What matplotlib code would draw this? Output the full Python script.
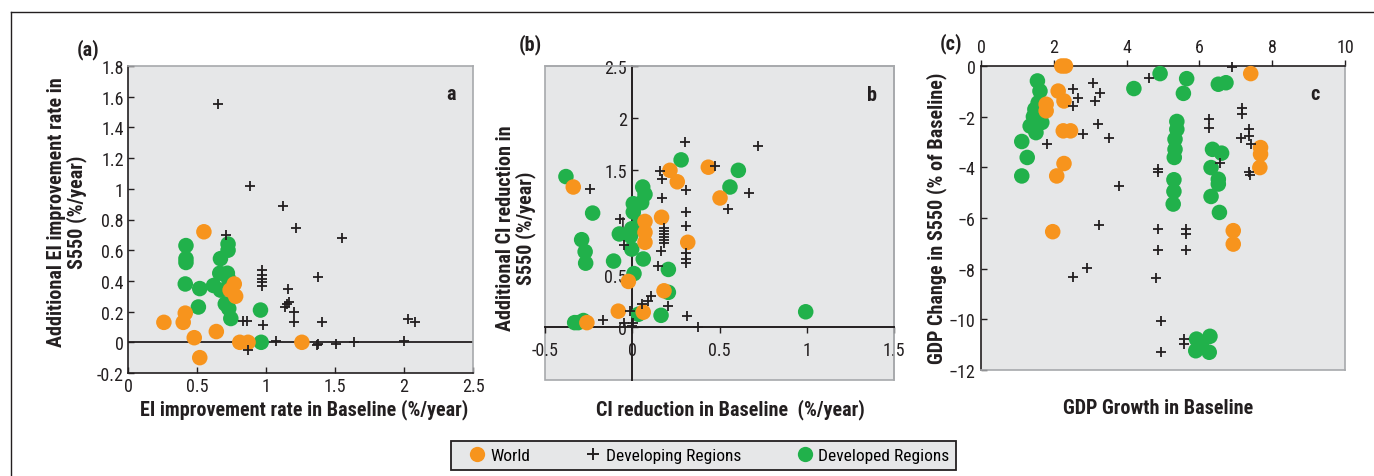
"""
EI / CI / GDP scatter panels, S550 vs Baseline
"""

import matplotlib
matplotlib.use('Agg')
import matplotlib.pyplot as plt
from matplotlib import font_manager
from matplotlib.lines import Line2D
from matplotlib.patches import Rectangle

# narrow font if one is installed
names = {f.name for f in font_manager.fontManager.ttflist}
narrow = [n for n in ['Liberation Sans Narrow', 'DejaVu Sans Condensed', 'Roboto Condensed',
                      'Open Sans Condensed'] if n in names]
plt.rcParams['font.family'] = narrow[:1] + ['Liberation Sans', 'DejaVu Sans']

# ---- panel (a): EI improvement rate ----
a_world_x = [0.26, 0.40, 0.415, 0.48, 0.52, 0.55, 0.64, 0.77, 0.78, 0.81, 0.87, 1.26, 0.74]
a_world_y = [0.13, 0.13, 0.19, 0.03, -0.10, 0.72, 0.07, 0.38, 0.30, 0.0, 0.0, 0.0, 0.34]
a_dev_x = [0.42, 0.42, 0.42, 0.415, 0.52, 0.51, 0.62, 0.67, 0.67, 0.725, 0.725,
           0.665, 0.72, 0.725, 0.705, 0.73, 0.745, 0.96, 0.965]
a_dev_y = [0.63, 0.545, 0.52, 0.38, 0.35, 0.23, 0.37, 0.34, 0.545, 0.64, 0.60,
           0.45, 0.45, 0.42, 0.25, 0.22, 0.155, 0.21, 0.0]
a_devg_x = [0.65, 0.885, 1.12, 1.22, 1.55, 1.38, 0.97, 0.97, 0.97, 0.97, 0.97,
            1.16, 1.15, 1.14, 1.17, 1.20, 1.20, 1.405, 0.83, 0.86, 0.975, 0.71,
            1.07, 1.37, 1.38, 1.51, 1.635, 2.03, 2.08, 0.87, 2.0]
a_devg_y = [1.555, 1.02, 0.89, 0.745, 0.68, 0.425, 0.47, 0.44, 0.41, 0.39, 0.37,
            0.35, 0.25, 0.23, 0.26, 0.20, 0.13, 0.13, 0.14, 0.14, 0.115, 0.70,
            0.01, -0.02, -0.01, -0.01, 0.0, 0.155, 0.135, -0.05, 0.01]

# ---- panel (b): CI reduction ----
b_world_x = [-0.338, -0.26, -0.08, -0.022, 0.063, 0.073, 0.073, 0.073, 0.168,
             0.216, 0.258, 0.318, 0.182, 0.436, 0.503]
b_world_y = [1.34, 0.04, 0.15, 0.435, 0.14, 1.01, 0.905, 0.81, 1.05,
             1.50, 1.39, 0.81, 0.345, 1.53, 1.235]
b_dev_x = [-0.38, -0.227, -0.29, -0.27, -0.267, -0.107, -0.074, -0.33, -0.31,
           -0.28, 0.28, 0.608, 0.56, 0.994, 0.06, 0.073, 0.054, 0.006, 0.006,
           -0.003, -0.01, -0.003, 0.063, 0.01, 0.207, 0.207, 0.165, 0.035, 0.045]
b_dev_y = [1.44, 1.09, 0.835, 0.72, 0.61, 0.63, 0.89, 0.04, 0.04,
           0.06, 1.60, 1.50, 1.34, 0.144, 1.34, 1.27, 1.19, 1.18, 1.10,
           0.94, 0.87, 0.745, 0.65, 0.51, 0.55, 0.33, 0.11, 0.12, 1.0]
b_devg_x = [0.302, 0.719, -0.242, 0.671, 0.547, 0.474, 0.159, 0.169, 0.306,
            0.306, 0.306, 0.306, 0.306, 0.306, 0.169, 0.18, 0.18, 0.18, 0.18,
            0.18, 0.18, 0.165, 0.15, -0.07, -0.05, 0.107, 0.092, 0.054, 0.207,
            0.315, 0.375, -0.166, -0.05, -0.003, 0.006, -0.013]
b_devg_y = [1.77, 1.73, 1.32, 1.28, 1.13, 1.54, 1.49, 1.42, 1.31,
            1.10, 0.97, 0.71, 0.65, 0.61, 1.23, 0.95, 0.92, 0.89, 0.86,
            0.83, 0.80, 0.73, 0.585, 1.03, 0.78, 0.30, 0.25, 0.22, 0.20,
            0.105, 0.0, 0.064, 0.04, 0.01, 0.04, 0.15]

# ---- panel (c): GDP ----
c_world_x = [2.22, 2.32, 7.41, 2.12, 2.28, 1.79, 1.79, 2.26, 2.46, 2.28, 2.08,
             1.97, 6.93, 6.93, 7.68, 7.68, 7.66]
c_world_y = [0.0, 0.0, -0.30, -0.99, -1.38, -1.51, -1.77, -2.56, -2.56, -3.85, -4.34,
             -6.54, -6.50, -7.03, -3.22, -3.48, -4.01]
c_dev_x = [1.12, 1.27, 1.12, 1.55, 1.62, 1.57, 1.48, 1.44, 1.35, 1.51, 1.67,
           4.2, 4.92, 5.65, 5.56, 5.38, 5.38, 5.33, 5.33, 5.31, 5.3, 5.3, 5.28,
           6.52, 6.73, 6.36, 6.61, 6.32, 6.52, 6.52, 6.32, 6.55,
           5.92, 5.9, 6.29, 6.27, 6.06]
c_dev_y = [-2.98, -3.61, -4.34, -0.59, -0.99, -1.45, -1.71, -2.0, -2.37, -2.63, -2.23,
           -0.89, -0.30, -0.5, -1.08, -2.19, -2.5, -2.89, -3.29, -3.61, -4.49, -4.95, -5.45,
           -0.72, -0.66, -3.29, -3.44, -4.01, -4.47, -4.66, -5.15, -5.78,
           -10.78, -11.24, -10.67, -11.3, -11.04]
c_devg_x = [4.62, 6.89, 2.52, 2.67, 2.52, 3.09, 3.27, 3.13, 3.22, 2.81, 3.52,
            1.8, 3.79, 3.24, 2.52, 2.9, 4.87, 4.87, 4.85, 4.85, 4.82, 4.95,
            4.95, 5.62, 5.62, 5.62, 5.59, 5.59, 6.27, 6.27, 7.16, 7.16, 7.14,
            7.37, 7.35, 7.42, 7.35, 7.39, 6.57]
c_devg_y = [-0.46, -0.03, -0.89, -1.25, -1.58, -0.66, -1.05, -1.38, -2.3, -2.69, -2.86,
            -3.09, -4.73, -6.28, -8.34, -7.98, -4.07, -4.18, -6.44, -7.27, -8.38, -10.05,
            -11.27, -6.44, -6.64, -7.27, -10.78, -10.97, -2.1, -2.43, -1.64, -1.91, -2.83,
            -2.5, -2.76, -3.09, -4.2, -4.31, -3.81]

ORANGE = '#F7941D'
GREEN = '#21B14B'
BG = '#E6E7E8'
EDGE = '#A7A9AC'
INK = '#231F20'

# sizes depend on how narrow the font is
if narrow:
    TICK, LAB, LEG = 13, 14.5, 12.5
else:
    TICK, LAB, LEG = 10.5, 11, 10.5

W, H = 1374, 477
fig = plt.figure(figsize=(W / 100, H / 100), dpi=100)


def px_axes(l, t, r, b):
    return fig.add_axes([l / W, 1 - b / H, (r - l) / W, (b - t) / H])


def fx(x, y):
    return x / W, 1 - y / H


def draw(ax, wx, wy, dx, dy, gx, gy):
    ax.scatter(dx, dy, s=125, color=GREEN, edgecolors='none', zorder=3, clip_on=False)
    ax.scatter(wx, wy, s=125, color=ORANGE, edgecolors='none', zorder=3, clip_on=False)
    ax.scatter(gx, gy, s=60, marker='+', color=INK, linewidths=1.3, zorder=4, clip_on=False)


def box(ax):
    ax.set_facecolor(BG)
    for s in ax.spines.values():
        s.set_color(EDGE)
        s.set_linewidth(1.2)
    ax.tick_params(labelsize=TICK, colors=INK, width=1.0, length=4)


lab = dict(fontsize=LAB, fontweight='bold', color=INK)

# (a)
ax = px_axes(128, 67, 473, 374)
box(ax)
draw(ax, a_world_x, a_world_y, a_dev_x, a_dev_y, a_devg_x, a_devg_y)
ax.set_xlim(0, 2.5)
ax.set_ylim(-0.2, 1.8)
ax.set_xticks([0, 0.5, 1, 1.5, 2, 2.5])
ax.set_xticklabels(['0', '0.5', '1', '1.5', '2', '2.5'])
ax.set_yticks([-0.2, 0, 0.2, 0.4, 0.6, 0.8, 1, 1.2, 1.4, 1.6, 1.8])
ax.set_yticklabels(['-0.2', '0', '0.2', '0.4', '0.6', '0.8', '1', '1.2', '1.4', '1.6', '1.8'])
ax.spines['left'].set_color(INK)
ax.spines['bottom'].set_color(INK)
ax.tick_params(direction='in', pad=3)
ax.axhline(0, color=INK, lw=1.3, zorder=2)
ax.text(0.95, 0.91, 'a', transform=ax.transAxes, ha='right', va='center', **lab)
fig.text(*fx(67, 212), 'Additional EI improvement rate in\nS550 (%/year)', rotation=90,
         ha='center', va='center', multialignment='center', linespacing=1.0, **lab)
fig.text(*fx(304, 410), 'EI improvement rate in Baseline (%/year)', ha='center', va='center', **lab)
fig.text(*fx(88, 50), '(a)', ha='center', va='center', **lab)

# (b)
ax = px_axes(545, 67, 894, 381)
box(ax)
draw(ax, b_world_x, b_world_y, b_dev_x, b_dev_y, b_devg_x, b_devg_y)
ax.set_xlim(-0.5, 1.5)
ax.set_ylim(-0.51, 2.5)
for side in ['left', 'bottom']:
    ax.spines[side].set_position(('data', 0))
    ax.spines[side].set_color(INK)
    ax.spines[side].set_linewidth(1.4)
ax.add_patch(Rectangle((0, 0), 1, 1, transform=ax.transAxes, fill=False,
                       edgecolor=EDGE, lw=1.2, zorder=0.5, clip_on=False))
ax.set_xticks([-0.5, 0, 0.5, 1, 1.5])
ax.set_xticklabels(['-0.5', '0', '0.5', '1', '1.5'])
ax.set_yticks([0, 0.5, 1, 1.5, 2, 2.5])
ax.set_yticklabels(['0', '0.5', '1', '1.5', '2', '2.5'])
ax.tick_params(axis='x', direction='out', pad=6)
ax.tick_params(axis='y', direction='in', pad=4)
ax.text(0.95, 0.91, 'b', transform=ax.transAxes, ha='right', va='center', **lab)
fig.text(*fx(516, 228), 'Additional CI reduction in\nS550 (%/year)', rotation=90,
         ha='center', va='center', multialignment='center', linespacing=1.0, **lab)
fig.text(*fx(730, 410), 'CI reduction in Baseline  (%/year)', ha='center', va='center', **lab)
fig.text(*fx(530, 45), '(b)', ha='center', va='center', **lab)

# (c)
ax = px_axes(981, 67, 1345, 371)
box(ax)
draw(ax, c_world_x, c_world_y, c_dev_x, c_dev_y, c_devg_x, c_devg_y)
ax.set_xlim(0, 10)
ax.set_ylim(-12, 0)
ax.xaxis.tick_top()
ax.spines['top'].set_color(INK)
ax.spines['left'].set_color(INK)
ax.set_xticks([0, 2, 4, 6, 8, 10])
ax.set_yticks([0, -2, -4, -6, -8, -10, -12])
ax.tick_params(axis='x', direction='out', pad=3)
ax.tick_params(axis='y', direction='in', pad=4)
ax.text(0.93, 0.91, 'c', transform=ax.transAxes, ha='right', va='center', **lab)
fig.text(*fx(937, 218), 'GDP Change in S550 (% of Baseline)', rotation=90,
         ha='center', va='center', **lab)
fig.text(*fx(1158, 409), 'GDP Growth in Baseline', ha='center', va='center', **lab)
fig.text(*fx(951, 44), '(c)', ha='center', va='center', **lab)

# legend
handles = [
    Line2D([], [], marker='o', ls='none', color=ORANGE, markersize=11, markeredgewidth=0),
    Line2D([], [], marker='+', ls='none', color=INK, markersize=9, markeredgewidth=1.4),
    Line2D([], [], marker='o', ls='none', color=GREEN, markersize=11, markeredgewidth=0),
]
l0, t0 = fx(451, 432)
l1, t1 = fx(956, 471)
leg = fig.legend(handles, ['World', 'Developing Regions', 'Developed Regions'],
                 loc='lower left', bbox_to_anchor=(l0, t1, l1 - l0, t0 - t1),
                 mode='expand', ncol=3, fontsize=LEG, handletextpad=-0.35,
                 borderaxespad=0, fancybox=False, framealpha=1, handlelength=2.2)
leg.get_frame().set_facecolor(BG)
leg.get_frame().set_edgecolor(INK)
leg.get_frame().set_linewidth(1.3)

# outer frame (left and top only, cut by image edge)
fig.add_artist(Line2D([11 / W, 11 / W], [0, 1 - 13 / H], color=INK, lw=1.0))
fig.add_artist(Line2D([11 / W, 1], [1 - 13 / H, 1 - 13 / H], color=INK, lw=1.0))

fig.savefig('out.png', dpi=100)
plt.close(fig)
